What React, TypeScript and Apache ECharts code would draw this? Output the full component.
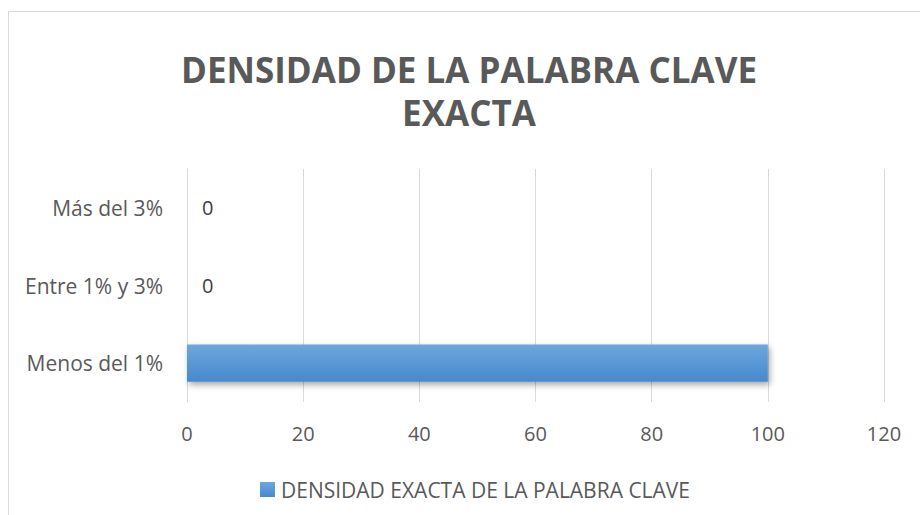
import React, { useEffect, useRef } from "react";
import * as echarts from "echarts";

const categories = ["Menos del 1%", "Entre 1% y 3%", "Más del 3%"];
const values = [100, 0, 0];
const seriesName = "DENSIDAD EXACTA DE LA PALABRA CLAVE";
const titleLines = ["DENSIDAD DE LA PALABRA CLAVE", "EXACTA"];

export default function App() {
  const ref = useRef<HTMLDivElement>(null);
  useEffect(() => {
    const chart = echarts.init(ref.current!, null, { renderer: "svg" });
    const font = "Open Sans";
    const titleTops = [48, 91];
    chart.setOption({
      animation: false,
      backgroundColor: "#ffffff",
      textStyle: { fontFamily: font },
      title: titleLines.map((t, i) => ({
        text: t,
        left: 469,
        textAlign: "center",
        top: titleTops[i],
        padding: 0,
        textStyle: {
          fontFamily: font,
          fontSize: 35,
          fontWeight: "bold",
          color: "#595959",
          lineHeight: 42,
        },
      })),
      graphic: [
        {
          type: "rect",
          shape: { x: 8.5, y: 11.5, width: 930, height: 530 },
          style: { fill: "none", stroke: "#d9d9d9", lineWidth: 1 },
          silent: true,
        },
      ],
      legend: {
        top: 474,
        left: 255,
        itemWidth: 15,
        itemHeight: 15,
        icon: "rect",
        itemGap: 5,
        textStyle: { fontFamily: font, fontSize: 21, color: "#595959", padding: [0, 0, 0, 1] },
        data: [seriesName],
      },
      grid: { left: 187, right: 36, top: 169, bottom: 113, containLabel: false },
      xAxis: {
        type: "value",
        min: 0,
        max: 120,
        interval: 20,
        axisLine: { show: false },
        axisTick: { show: false },
        splitLine: { lineStyle: { color: "#d9d9d9", width: 1 } },
        axisLabel: { fontFamily: font, fontSize: 20, color: "#595959", margin: 21 },
      },
      yAxis: {
        type: "category",
        data: categories,
        axisLine: { lineStyle: { color: "#d9d9d9" } },
        axisTick: { show: false },
        axisLabel: { fontFamily: font, fontSize: 21, color: "#595959", margin: 24 },
      },
      series: [
        {
          name: seriesName,
          type: "bar",
          barWidth: "48%",
          data: values.map((v) => ({
            value: v,
            label: { show: v === 0 },
          })),
          itemStyle: {
            color: new echarts.graphic.LinearGradient(0, 0, 0, 1, [
              { offset: 0, color: "#6ea6dd" },
              { offset: 1, color: "#4689cd" },
            ]),
            shadowColor: "rgba(0,0,0,0.35)",
            shadowBlur: 6,
            shadowOffsetX: 2,
            shadowOffsetY: 3,
          },
          label: {
            position: "right",
            distance: 15,
            fontFamily: font,
            fontSize: 20,
            color: "#404040",
          },
        },
      ],
    });
    return () => chart.dispose();
  }, []);
  return (
    <div
      ref={ref}
      style={{ position: "fixed", left: 0, top: 0, width: 920, height: 515 }}
    />
  );
}
